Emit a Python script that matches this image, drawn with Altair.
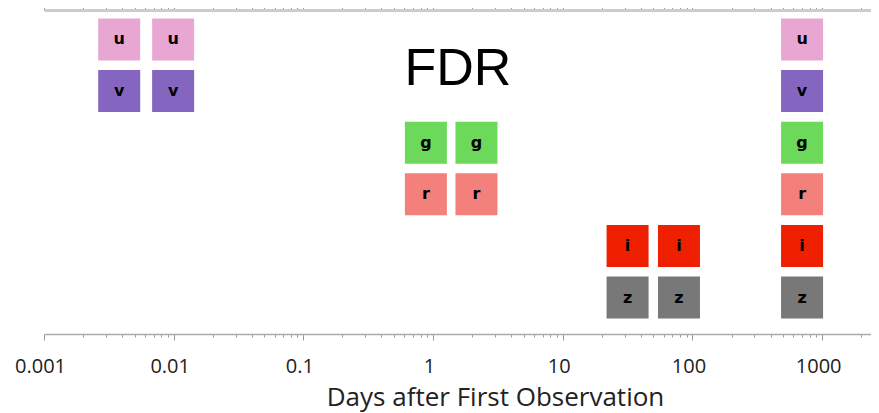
import altair as alt
import pandas as pd

# Filters (rows, top to bottom), colours and row levels
filters = ["u", "v", "g", "r", "i", "z"]
colors = ["#E8A6D3", "#8466C1", "#6CD95A", "#F3807A", "#EE2000", "#787878"]
row_level = [5, 4, 3, 2, 1, 0]

# Observation epochs (days after first observation) per filter
obs_filter = ["u", "u", "u", "v", "v", "v", "g", "g", "g", "r", "r", "r", "i", "i", "i", "z", "z", "z"]
obs_days = [0.0038, 0.0099, 700, 0.0038, 0.0099, 700,
            0.88, 2.16, 700, 0.88, 2.16, 700,
            31.6, 78.7, 700, 31.6, 78.7, 700]

# Axis tick values
decades = [0.001, 0.01, 0.1, 1, 10, 100, 1000]
minor = [m * d for d in [0.001, 0.01, 0.1, 1, 10, 100, 1000] for m in range(2, 10)]
x_max = 2380
tick_values = sorted(decades + [v for v in minor if v <= x_max])

# Annotation
label_text = ["FDR"]
label_x = [1.556]
label_y = [4.12]

level_map = dict(zip(filters, row_level))
df = pd.DataFrame({"filter": obs_filter, "days": obs_days})
df["level"] = df["filter"].map(level_map)
ann = pd.DataFrame({"text": label_text, "x": label_x, "y": label_y})

xscale = alt.Scale(type="log", domain=[0.001, x_max], nice=False)
yscale = alt.Scale(domain=[-0.705, 5.57], nice=False, zero=False)
cscale = alt.Scale(domain=filters, range=colors)

is_decade = "abs(log(datum.value)/LN10 - round(log(datum.value)/LN10)) < 1e-6"
axis_font = "Open Sans, DejaVu Sans, sans-serif"

bottom_axis = alt.Axis(
    orient="bottom", values=tick_values, format="~g",
    labelExpr=f"{is_decade} ? datum.label : ''",
    labelOverlap=False, labelBound=False, labelFlush=False,
    tickSize={"condition": {"test": is_decade, "value": 6}, "value": 3},
    tickColor="#999999", tickWidth=1,
    domainColor="#aaaaaa", domainWidth=1.5,
    labelFont=axis_font, labelFontSize=20, labelColor="#222222",
    labelPadding=16, labelOffset=-4,
    title="Days after First Observation", titleFont=axis_font,
    titleFontSize=26, titleFontWeight="normal", titleColor="#222222",
    titleX=451, titleY=71, titleAlign="center", titleBaseline="alphabetic",
    grid=False,
)

top_axis = alt.Axis(
    orient="top", values=tick_values, labels=False, title=None,
    tickSize={"condition": {"test": is_decade, "value": 4}, "value": 3},
    tickColor="#999999", domainColor="#cccccc", domainWidth=3, grid=False,
)

y_axis = alt.Axis(labels=False, ticks=False, title=None, domainColor="#aaaaaa",
                  domainWidth=1.5, grid=False)

squares = alt.Chart(df).mark_square(size=1764, opacity=1, filled=True, strokeWidth=0).encode(
    x=alt.X("days:Q", scale=xscale, axis=bottom_axis),
    y=alt.Y("level:Q", scale=yscale, axis=y_axis),
    color=alt.Color("filter:N", scale=cscale, legend=None),
)

letters = alt.Chart(df).mark_text(
    font="DejaVu Sans", fontWeight=900, fontSize=16, color="black", baseline="middle", align="center"
).encode(
    x=alt.X("days:Q", scale=xscale, axis=None),
    y=alt.Y("level:Q", scale=yscale, axis=None),
    text="filter:N",
)

fdr = alt.Chart(ann).mark_text(
    font="Liberation Sans", fontSize=52, color="black", baseline="alphabetic", align="center"
).encode(
    x=alt.X("x:Q", scale=xscale, axis=top_axis),
    y=alt.Y("y:Q", scale=yscale, axis=None),
    text="text:N",
)

chart = alt.layer(squares, letters, fdr).resolve_axis(x="independent").properties(
    width=827, height=324,
    autosize=alt.AutoSizeParams(type="none"),
    padding={"left": 36, "top": 2, "right": 0, "bottom": 79},
).configure_view(stroke=None)

chart.save("out.html", embed_options={"renderer": "svg", "actions": False})
